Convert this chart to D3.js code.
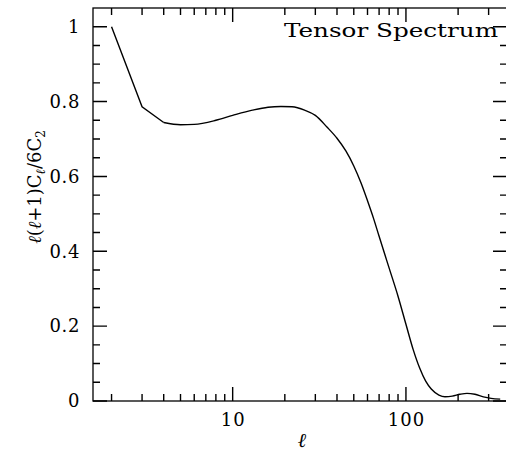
<!DOCTYPE html>
<html>
<head>
<meta charset="utf-8">
<script src="https://cdn.jsdelivr.net/npm/d3@7"></script>
<style>
  html, body { margin: 0; padding: 0; background: #fff; }
  svg { display: block; }
  text { font-family: "DejaVu Serif", "Liberation Serif", serif; fill: #000; }
</style>
</head>
<body>
<svg id="chart" width="506" height="452"></svg>
<script>
// ---- data ----
const ells = [2, 3, 4, 5, 6, 8, 10, 13, 16, 19, 22, 26, 30, 35, 40, 45, 50, 55, 60, 65, 70, 75, 80, 90, 100, 110, 120, 130, 140, 155, 168, 185, 205, 225, 250, 280, 310, 350];
const power = [1.0, 0.786, 0.744, 0.738, 0.739, 0.750, 0.763, 0.777, 0.785, 0.787, 0.786, 0.777, 0.763, 0.732, 0.702, 0.668, 0.628, 0.583, 0.535, 0.488, 0.440, 0.396, 0.355, 0.280, 0.205, 0.138, 0.088, 0.053, 0.032, 0.016, 0.0115, 0.013, 0.018, 0.0205, 0.018, 0.011, 0.007, 0.005];
const yMajorTicks = [0, 0.2, 0.4, 0.6, 0.8, 1.0];
const yTickLabels = ["0", "0.2", "0.4", "0.6", "0.8", "1"];
const xMajorTicks = [10, 100];
const xTickLabels = ["10", "100"];
const xMinorTicks = [2, 3, 4, 5, 6, 7, 8, 9, 20, 30, 40, 50, 60, 70, 80, 90, 200, 300];
const yMinorTicks = [0.05, 0.1, 0.15, 0.25, 0.3, 0.35, 0.45, 0.5, 0.55, 0.65, 0.7, 0.75, 0.85, 0.9, 0.95];
const title = "Tensor Spectrum";

// ---- layout ----
const L = 93, R = 507, T = 8, B = 401;
const svg = d3.select("#chart");
const x = d3.scaleLog().domain([1.563, 383]).range([L, R]);
const y = d3.scaleLinear().domain([0, 1.05]).range([B, T]);

const majorLen = 14, minorLen = 7;

// tick labels via d3 axes
const gx = svg.append("g").attr("transform", `translate(0,${B})`)
  .call(d3.axisBottom(x).tickValues(xMajorTicks).tickSize(0).tickPadding(12).tickFormat((d, i) => xTickLabels[i]));
gx.select(".domain").remove();
gx.selectAll("text").attr("font-size", 18).attr("letter-spacing", 1)
  .attr("font-family", "DejaVu Serif, serif").attr("fill", "#000");

const gy = svg.append("g").attr("transform", `translate(${L},0)`)
  .call(d3.axisLeft(y).tickValues(yMajorTicks).tickSize(0).tickPadding(13).tickFormat((d, i) => yTickLabels[i]));
gy.select(".domain").remove();
gy.selectAll("text").attr("font-size", 18).attr("letter-spacing", 0.6)
  .attr("font-family", "DejaVu Serif, serif").attr("fill", "#000");

// inward ticks on all four sides, drawn as one path
let td = "";
xMajorTicks.forEach(d => { const px = x(d); td += `M${px},${B}V${B - majorLen}M${px},${T}V${T + majorLen}`; });
xMinorTicks.forEach(d => { const px = x(d); td += `M${px},${B}V${B - minorLen}M${px},${T}V${T + minorLen}`; });
yMajorTicks.forEach(d => { const py = y(d); td += `M${L},${py}H${L + majorLen}M${R},${py}H${R - majorLen}`; });
yMinorTicks.forEach(d => { const py = y(d); td += `M${L},${py}H${L + minorLen}M${R},${py}H${R - minorLen}`; });
svg.append("path").attr("d", td).attr("fill", "none").attr("stroke", "#000").attr("stroke-width", 1.4);

// frame
svg.append("rect").attr("x", L).attr("y", T).attr("width", R - L).attr("height", B - T)
  .attr("fill", "none").attr("stroke", "#000").attr("stroke-width", 1.3);

// curve: straight segments at the lowest multipoles, smooth afterwards
const pts = ells.map((l, i) => [l, power[i]]);
const lineLin = d3.line().x(d => x(d[0])).y(d => y(d[1]));
const lineSmooth = d3.line().x(d => x(d[0])).y(d => y(d[1])).curve(d3.curveMonotoneX);
svg.append("path").datum(pts.slice(0, 3))
  .attr("fill", "none").attr("stroke", "#000").attr("stroke-width", 1.4).attr("d", lineLin);
svg.append("path").datum(pts.slice(2))
  .attr("fill", "none").attr("stroke", "#000").attr("stroke-width", 1.4).attr("d", lineSmooth);

// title
svg.append("text").attr("x", 498).attr("y", 37).attr("text-anchor", "end")
  .attr("font-size", 18).attr("textLength", 214).attr("lengthAdjust", "spacingAndGlyphs").text(title);

// x label
svg.append("text").attr("x", 302).attr("y", 447).attr("text-anchor", "middle")
  .attr("font-size", 20).attr("font-style", "italic").text("ℓ");

// y label
const yl = svg.append("text").attr("transform", "translate(41,187) rotate(-90)")
  .attr("text-anchor", "middle").attr("font-size", 18);
yl.append("tspan").attr("font-style", "italic").text("ℓ");
yl.append("tspan").text("(");
yl.append("tspan").attr("font-style", "italic").text("ℓ");
yl.append("tspan").text("+1)C");
yl.append("tspan").attr("font-style", "italic").attr("font-size", 13).attr("dy", 4).text("ℓ");
yl.append("tspan").attr("dy", -4).text("/6C");
yl.append("tspan").attr("font-size", 12).attr("dy", 4).text("2");
</script>
</body>
</html>
